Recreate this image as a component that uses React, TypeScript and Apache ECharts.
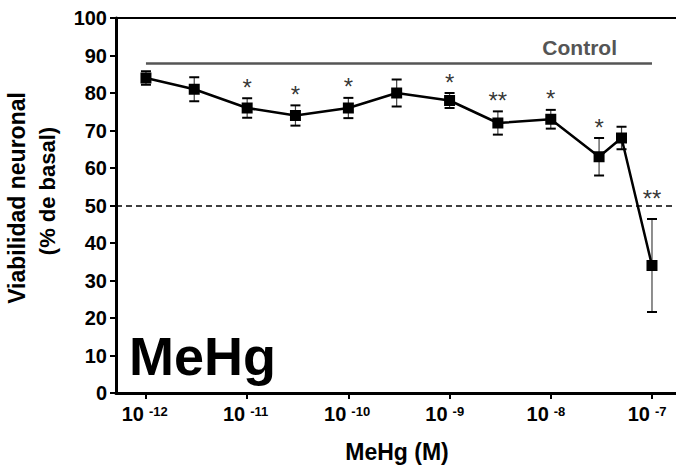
import React, { useEffect, useRef } from "react";
import * as echarts from "echarts";

// MeHg concentration (M) for each measured point
const concentrations = [1e-12, 3e-12, 1e-11, 3e-11, 1e-10, 3e-10, 1e-9, 3e-9, 1e-8, 3e-8, 5e-8, 1e-7];
// Neuronal viability (% of basal), mean and SEM
const viability = [84, 81, 76, 74, 76, 80, 78, 72, 73, 63, 68, 34];
const sem = [1.8, 3.2, 2.6, 2.7, 2.7, 3.6, 2.0, 3.1, 2.5, 5.0, 3.0, 12.4];
// Significance marks vs control
const significance = ["", "", "*", "*", "*", "", "*", "**", "*", "*", "", "**"];
// Decade tick exponents on the x axis
const decadeTicks = [-12, -11, -10, -9, -8, -7];
const yTicks = [0, 10, 20, 30, 40, 50, 60, 70, 80, 90, 100];
const controlLevel = 88;
const halfLevel = 50;

const FONT = "'Liberation Sans', Arial, Helvetica, sans-serif";

export default function App() {
  const ref = useRef<HTMLDivElement>(null);

  useEffect(() => {
    if (!ref.current) return;
    const chart = echarts.init(ref.current, null, { renderer: "svg" });
    const logX = concentrations.map((c) => Math.log10(c));
    const xMin = -12.296;
    const xMax = -6.743;

    const option: any = {
      animation: false,
      backgroundColor: "#ffffff",
      textStyle: { fontFamily: FONT },
      grid: { left: 116, top: 18, right: -2, bottom: 75, outerBoundsMode: "none" },
      xAxis: [
        {
          // main axis: line, decade ticks and the "10" base of each label
          type: "value",
          min: xMin,
          max: xMax,
          name: "MeHg (M)",
          nameLocation: "middle",
          nameGap: 47,
          nameTextStyle: {
            fontFamily: FONT,
            fontSize: 23,
            fontWeight: "bold",
            color: "#000",
          },
          splitLine: { show: false },
          axisLine: { show: true, onZero: false, lineStyle: { color: "#000", width: 3 } },
          axisTick: {
            show: true,
            customValues: decadeTicks,
            length: 6,
            lineStyle: { color: "#000", width: 2 },
          },
          axisLabel: {
            customValues: decadeTicks,
            margin: 11,
            fontFamily: FONT,
            fontSize: 20,
            fontWeight: "bold",
            color: "#000",
            align: "right",
            padding: [0, 2, 0, 0],
            formatter: () => "10",
          },
        },
        {
          // frame line along the top of the plot
          type: "value",
          position: "top",
          min: xMin,
          max: xMax,
          splitLine: { show: false },
          axisLine: { show: true, onZero: false, lineStyle: { color: "#000", width: 2 } },
          axisTick: { show: false },
          axisLabel: { show: false },
        },
        {
          // exponents written as superscripts beside each "10"
          type: "value",
          position: "bottom",
          min: xMin,
          max: xMax,
          splitLine: { show: false },
          axisLine: { show: false, onZero: false },
          axisTick: { show: false },
          axisLabel: {
            customValues: decadeTicks,
            margin: 12,
            fontFamily: FONT,
            fontSize: 13,
            fontWeight: "bold",
            color: "#000",
            align: "left",
            padding: [0, 0, 0, 3],
            formatter: (v: number) => String(Math.round(v)),
          },
        },
      ],
      yAxis: {
        type: "value",
        min: 0,
        max: 100,
        interval: 10,
        splitLine: { show: false },
        axisLine: { show: true, lineStyle: { color: "#000", width: 3 } },
        axisTick: { show: true, length: 6, lineStyle: { color: "#000", width: 2 } },
        axisLabel: {
          margin: 9,
          fontFamily: FONT,
          fontSize: 20,
          fontWeight: "bold",
          color: "#000",
          customValues: yTicks,
        },
      },
      graphic: [
        {
          type: "text",
          x: 17,
          y: 198,
          rotation: Math.PI / 2,
          style: {
            text: "Viabilidad neuronal",
            fontFamily: FONT,
            fontSize: 23,
            fontWeight: "bold",
            fill: "#000",
            align: "center",
            verticalAlign: "middle",
          },
        },
        {
          type: "text",
          x: 47,
          y: 191,
          rotation: Math.PI / 2,
          style: {
            text: "(% de basal)",
            fontFamily: FONT,
            fontSize: 22,
            fontWeight: "bold",
            fill: "#000",
            align: "center",
            verticalAlign: "middle",
          },
        },
        {
          type: "text",
          x: 129,
          y: 356,
          style: {
            text: "MeHg",
            fontFamily: FONT,
            fontSize: 54,
            fontWeight: "bold",
            fill: "#000",
            align: "left",
            verticalAlign: "middle",
          },
        },
      ],
      series: [
        {
          type: "custom",
          name: "sem",
          z: 1,
          data: logX.map((x, i) => [x, viability[i], sem[i]]),
          renderItem: (_params: any, api: any) => {
            const x = api.value(0);
            const m = api.value(1);
            const e = api.value(2);
            const hi = api.coord([x, m + e]);
            const lo = api.coord([x, m - e]);
            const w = 5;
            return {
              type: "group",
              children: [
                { type: "line", shape: { x1: hi[0], y1: hi[1], x2: lo[0], y2: lo[1] }, style: { stroke: "#444", lineWidth: 1.2 } },
                { type: "line", shape: { x1: hi[0] - w, y1: hi[1], x2: hi[0] + w, y2: hi[1] }, style: { stroke: "#000", lineWidth: 2 } },
                { type: "line", shape: { x1: lo[0] - w, y1: lo[1], x2: lo[0] + w, y2: lo[1] }, style: { stroke: "#000", lineWidth: 2 } },
              ],
            };
          },
        },
        {
          type: "line",
          name: "MeHg",
          z: 3,
          data: logX.map((x, i) => [x, viability[i]]),
          symbol: "rect",
          symbolSize: 11,
          itemStyle: { color: "#000" },
          lineStyle: { color: "#000", width: 2.5 },
          markLine: {
            silent: true,
            symbol: ["none", "none"],
            data: [
              {
                yAxis: halfLevel,
                lineStyle: { color: "#000", width: 1.5, type: [6, 4] },
                label: { show: false },
              },
              [
                {
                  coord: [logX[0], controlLevel],
                  lineStyle: { color: "#555", width: 2.5, type: "solid" },
                  label: {
                    show: true,
                    formatter: "Control",
                    position: "insideEndTop",
                    distance: [35, 5],
                    fontFamily: FONT,
                    fontSize: 21,
                    fontWeight: "bold",
                    color: "#555",
                  },
                },
                { coord: [logX[logX.length - 1], controlLevel] },
              ],
            ],
          },
        },
        {
          type: "scatter",
          name: "significance",
          z: 4,
          symbolSize: 0,
          silent: true,
          data: logX.map((x, i) => ({
            value: [x, viability[i] + sem[i], significance[i]],
            label: i === logX.length - 1 ? { offset: [0, -10] } : undefined,
          })),
          label: {
            show: true,
            position: "top",
            distance: -1,
            formatter: (p: any) => p.value[2],
            fontFamily: FONT,
            fontSize: 24,
            color: "#000",
          },
        },
      ],
    };

    chart.setOption(option);
    return () => chart.dispose();
  }, []);

  return (
    <div
      ref={ref}
      style={{ position: "fixed", left: 0, top: 0, width: 676, height: 468 }}
    />
  );
}
